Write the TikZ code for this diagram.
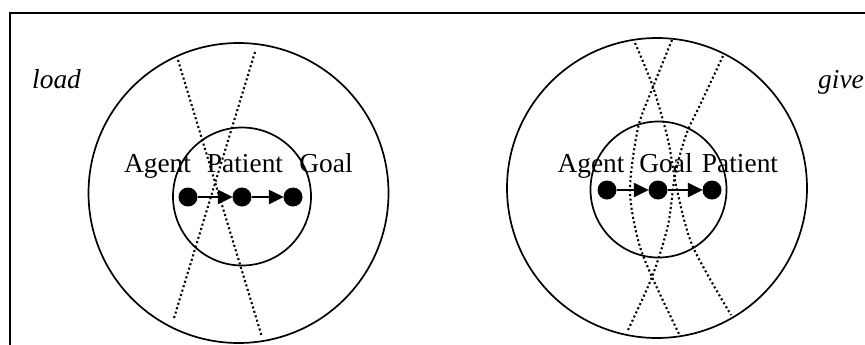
\documentclass[tikz,border=0pt]{standalone}
\usepackage{fontspec}
\setmainfont{Liberation Serif}
\usetikzlibrary{arrows.meta}
\begin{document}
\begin{tikzpicture}[x=1bp,y=-1bp,
  ring/.style={line width=1.7bp},
  frameline/.style={line width=2.2bp},
  dotline/.style={line width=2.1bp,dash pattern=on 2bp off 2.6bp},
  roledot/.style={circle,fill=black,inner sep=0pt,minimum size=19bp},
  rolearrow/.style={line width=2.4bp,-{Triangle[length=15bp,width=14bp]},shorten >=-0.5bp},
  role/.style={font=\fontsize{27.5}{32}\selectfont,inner sep=0pt,anchor=base},
  verb/.style={font=\fontsize{27.5}{32}\selectfont\itshape,inner sep=0pt,anchor=base west}]
\useasboundingbox (0,0) rectangle (865,344);
\fill[white] (0,0) rectangle (865,344);
% frame
\draw[frameline] (10,350) -- (10,13) -- (870,13);
% left diagram
\draw[ring] (238.5,193) circle[radius=150];
\draw[ring] (242,196.5) circle[radius=69];
\draw[dotline] (178,60) -- (262,337);
\draw[dotline] (255,52) -- (174,318);
\node[role] (lagent) at (157.5,172) {Agent};
\node[role] (lpatient) at (245,172) {Patient};
\node[role] (lgoal) at (326,172) {Goal};
\node[roledot] (l1) at (188,197) {};
\node[roledot] (l2) at (242,197) {};
\node[roledot] (l3) at (293,197) {};
\draw[rolearrow] (l1) -- (l2);
\draw[rolearrow] (l2) -- (l3);
\node[verb] (load) at (32,88) {load};
% right diagram
\draw[ring] (657,188) circle[radius=150];
\draw[ring] (658.5,189.5) circle[radius=68];
\draw[dotline] plot[smooth] coordinates {(635,43) (653,87) (668,140) (677,190) (693,247) (731,315)};
\draw[dotline] plot[smooth] coordinates {(672,40) (653,87) (638,128) (630,190) (638,240) (652,277) (680,336)};
\draw[dotline] plot[smooth] coordinates {(723,56) (700,105) (686,135) (675,175) (668,225) (652,277) (627,332)};
\node[role] (ragent) at (591,172) {Agent};
\node[role] (rgoal) at (666,172) {Goal};
\node[role] (rpatient) at (740,172) {Patient};
\node[roledot] (r1) at (607,190) {};
\node[roledot] (r2) at (658,190) {};
\node[roledot] (r3) at (712,190) {};
\draw[rolearrow] (r1) -- (r2);
\draw[rolearrow] (r2) -- (r3);
\node[verb] (give) at (818,88) {give};
\end{tikzpicture}
\end{document}
